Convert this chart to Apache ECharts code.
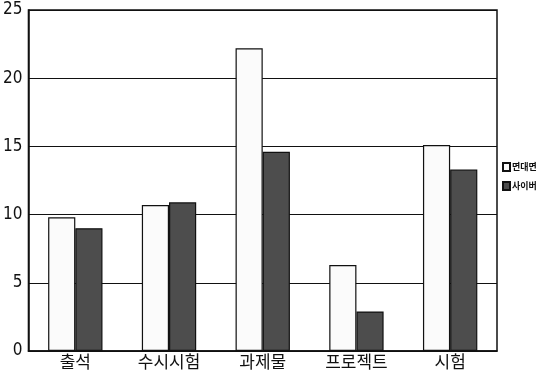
<!DOCTYPE html>
<html><head><meta charset="utf-8">
<script src="https://cdn.jsdelivr.net/npm/echarts@6/dist/echarts.min.js"></script>
<style>html,body{margin:0;padding:0;background:#fff}#c{width:538px;height:374px}</style>
</head><body><div id="c"></div>
<script>
const categories = ['출석', '수시시험', '과제물', '프로젝트', '시험'];
const faceToFace = [9.8, 10.7, 22.2, 6.3, 15.1];
const cyber = [9.0, 10.9, 14.6, 2.9, 13.3];
const seriesNames = ['면대면', '사이버'];

const chart = echarts.init(document.getElementById('c'));
chart.setOption({
  animation: false,
  backgroundColor: '#fff',
  grid: { left: 24, right: 41, top: 10, bottom: 23, show: true, borderColor: '#111', borderWidth: 1.5 },
  legend: {
    orient: 'vertical', left: 502, top: 162, padding: 0, itemWidth: 7, itemHeight: 8, itemGap: 9,
    icon: 'rect',
    textStyle: { fontSize: 9, fontWeight: 'bold', color: '#111', fontFamily: 'Noto Sans CJK KR', padding: [0, 0, 0, -3] },
    data: seriesNames
  },
  xAxis: {
    type: 'category', data: categories,
    axisLine: { lineStyle: { color: '#111', width: 1.5 } },
    axisTick: { show: false },
    axisLabel: { fontSize: 17, color: '#111', margin: 2, fontFamily: 'Noto Sans CJK KR' }
  },
  yAxis: {
    type: 'value', min: 0, max: 25, interval: 5,
    axisLine: { show: true, lineStyle: { color: '#111', width: 1.5 } },
    axisTick: { show: false },
    splitLine: { lineStyle: { color: '#111', width: 1 } },
    axisLabel: { fontSize: 17, color: '#111', margin: 6, fontFamily: 'Liberation Sans Narrow, DejaVu Sans Condensed, sans-serif' }
  },
  series: [
    { name: seriesNames[0], type: 'bar', data: faceToFace, barGap: '0%', barCategoryGap: '42%',
      itemStyle: { color: '#fbfbfb', borderColor: '#111', borderWidth: 1.2 } },
    { name: seriesNames[1], type: 'bar', data: cyber,
      itemStyle: { color: '#4d4d4d', borderColor: '#111', borderWidth: 1.2 } }
  ]
});
</script></body></html>
